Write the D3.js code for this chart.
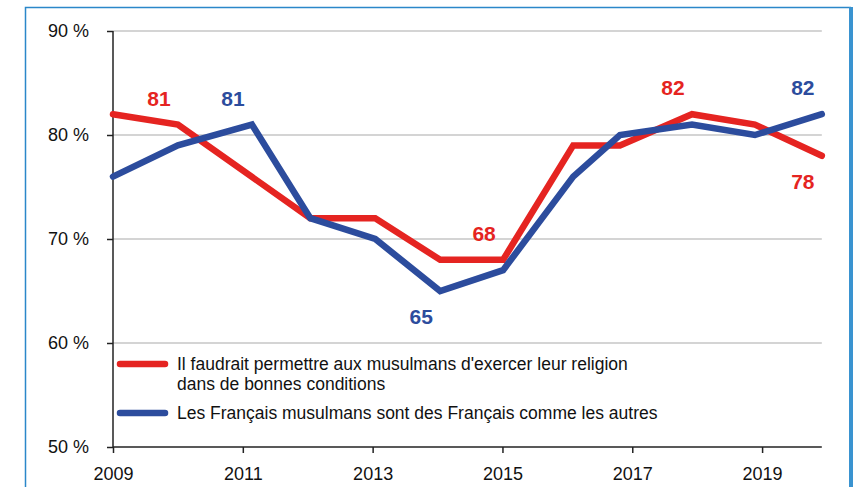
<!DOCTYPE html>
<html>
<head>
<meta charset="utf-8">
<script src="https://cdn.jsdelivr.net/npm/d3@7"></script>
<style>
  body { margin: 0; background: #fff; }
  svg { display: block; }
</style>
</head>
<body>
<div></div>
<script>
// survey dates (decimal years) and values in %
var dates = [2009.0, 2010.0, 2011.14, 2012.04, 2013.04, 2014.04, 2015.01, 2016.09, 2016.81, 2017.92, 2018.89, 2019.92];
var religion = [82, 81, null, 72, 72, 68, 68, 79, 79, 82, 81, 78];
var commeAutres = [76, 79, 81, 72, 70, 65, 67, 76, 80, 81, 80, 82];
var xTicks = [2009, 2011, 2013, 2015, 2017, 2019];
var yTicks = [50, 60, 70, 80, 90];
var legendLabels = [
  ["Il faudrait permettre aux musulmans d'exercer leur religion", "dans de bonnes conditions"],
  ["Les Français musulmans sont des Français comme les autres"]
];
// which points get a value label: series index, point index, above/below
var annotations = [
  { s: 0, i: 1, pos: "above" },
  { s: 1, i: 2, pos: "above" },
  { s: 0, i: 6, pos: "above" },
  { s: 1, i: 5, pos: "below" },
  { s: 0, i: 9, pos: "above" },
  { s: 1, i: 11, pos: "above" },
  { s: 0, i: 11, pos: "below" }
];

var width = 853;
var height = 487;
var colors = ["#e52421", "#2c4c9d"];
var font = "'Liberation Sans', Arial, sans-serif";

var svg = d3.select("div")
  .append("svg")
  .attr("width", width)
  .attr("height", height);

// frame
svg.append("path")
  .attr("d", "M25.5,487 V7.5 H851")
  .attr("fill", "none")
  .attr("stroke", "#2b87c9")
  .attr("stroke-width", 1.5);
svg.append("line")
  .attr("x1", 851).attr("x2", 851)
  .attr("y1", 7).attr("y2", height)
  .attr("stroke", "#3a93d0")
  .attr("stroke-width", 4);

var x = d3.scaleLinear().domain([2009, 2020]).range([113, 827]);
var y = d3.scaleLinear().domain([50, 90]).range([447, 31]);
var xEnd = x(dates[dates.length - 1]);

// grid
svg.append("g")
  .selectAll("line")
  .data(yTicks.filter((d) => d > 50))
  .join("line")
  .attr("x1", x(2009))
  .attr("x2", xEnd)
  .attr("y1", (d) => y(d))
  .attr("y2", (d) => y(d))
  .attr("stroke", "#c6c6c6")
  .attr("stroke-width", 1.5);

// axes
var yAxis = (g) =>
  g
    .attr("transform", `translate(${x(2009)},0)`)
    .call(d3.axisLeft(y).tickValues(yTicks).tickSize(6).tickPadding(18).tickFormat((d) => d + " %"))
    .call((g) => g.select(".domain").attr("stroke", "#222").attr("stroke-width", 1.5).attr("d", `M0,${y(50)}V${y(90)}`))
    .call((g) => g.selectAll(".tick line").attr("stroke", "#222").attr("stroke-width", 1.5))
    .call((g) => g.selectAll("text").attr("font-family", font).attr("font-size", 18).attr("fill", "#111"));

var xAxis = (g) =>
  g
    .attr("transform", `translate(0,${y(50)})`)
    .call(d3.axisBottom(x).tickValues(xTicks).tickSize(6).tickPadding(14).tickFormat(d3.format("d")))
    .call((g) => g.select(".domain").attr("stroke", "#222").attr("stroke-width", 1.5).attr("d", `M${x(2009)},0H${xEnd}`))
    .call((g) => g.selectAll(".tick line").attr("stroke", "#222").attr("stroke-width", 1.5))
    .call((g) => g.selectAll("text").attr("font-family", font).attr("font-size", 18).attr("fill", "#111"));

svg.append("g").call(yAxis);
svg.append("g").call(xAxis);

// lines
var series = [religion, commeAutres];
var line = d3.line()
  .x((d) => x(d.date))
  .y((d) => y(d.value));

series.forEach((values, s) => {
  var pts = dates.map((date, i) => ({ date: date, value: values[i] })).filter((d) => d.value != null);
  svg.append("path")
    .datum(pts)
    .attr("d", line)
    .attr("fill", "none")
    .attr("stroke", colors[s])
    .attr("stroke-width", 6.5)
    .attr("stroke-linejoin", "miter")
    .attr("stroke-linecap", "round");
});

// value labels
svg.append("g")
  .selectAll("text")
  .data(annotations)
  .join("text")
  .attr("x", (d) => x(dates[d.i]) - 19)
  .attr("y", (d) => y(series[d.s][d.i]) + (d.pos === "above" ? -19 : 33))
  .attr("text-anchor", "middle")
  .attr("font-family", "'Liberation Sans Narrow', " + font)
  .attr("font-weight", "bold")
  .attr("font-size", 21)
  .attr("fill", (d) => colors[d.s])
  .text((d) => series[d.s][d.i]);

// legend
var legend = svg.append("g").attr("transform", "translate(120,364)");
var rowY = 0;
legendLabels.forEach((lines, s) => {
  legend.append("line")
    .attr("x1", 0).attr("x2", 45)
    .attr("y1", rowY).attr("y2", rowY)
    .attr("stroke", colors[s])
    .attr("stroke-width", 6.5)
    .attr("stroke-linecap", "round");
  lines.forEach((t, k) => {
    legend.append("text")
      .attr("x", 57)
      .attr("y", rowY + 6 + k * 20)
      .attr("font-family", font)
      .attr("font-size", 17.5)
      .attr("fill", "#111")
      .text(t);
  });
  rowY += 49;
});
</script>
</body>
</html>
